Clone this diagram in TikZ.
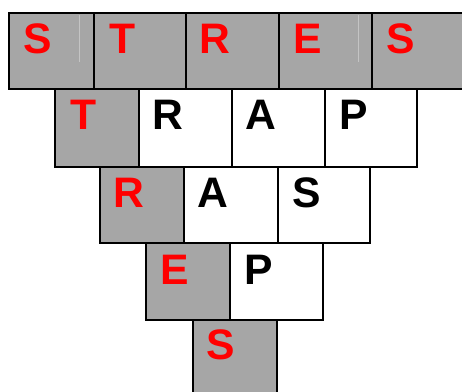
\documentclass[tikz,border=0pt]{standalone}
\usepackage{fontspec}
\setmainfont{Liberation Sans}
\usetikzlibrary{positioning}
\definecolor{boxgray}{HTML}{A6A6A6}
\definecolor{keyred}{HTML}{FF0000}
\definecolor{fainted}{HTML}{C4C4C4}

\tikzset{
  box/.style={draw=black, line width=1.5pt},
  keybox/.style={box, fill=boxgray},
  plainbox/.style={box, fill=white},
  letter/.style={font=\fontsize{32}{32}\selectfont\bfseries, inner sep=0pt, anchor=base},
  keyletter/.style={letter, text=keyred},
  plainletter/.style={letter, text=black},
}

\begin{document}
\begin{tikzpicture}[x=0.75pt, y=-0.75pt]
    \useasboundingbox (0,0) rectangle (462,392);
    \clip (0,0) rectangle (462,392);

    % row 1 : S T R E S (all grey)
    \foreach \xa/\xb/\ch [count=\i] in {9/94/S, 94/186/T, 186/279/R, 279/372/E, 372/466/S} {
      \draw[keybox] (\xa,13) rectangle (\xb,89);
      \node[keyletter] (ra\i) at (\xa+29,54) {\ch};
    }
    \draw[fainted, line width=0.6pt] (79,15) -- (79,62);
    \draw[fainted, line width=0.6pt] (358,15) -- (358,62);

    % row 2 : T R A P
    \draw[keybox] (55,89) rectangle (139,167);
    \node[keyletter] (rb1) at (84,130) {T};
    \foreach \xa/\xb/\ch [count=\i from 2] in {139/232/R, 232/325/A, 325/417/P} {
      \draw[plainbox] (\xa,89) rectangle (\xb,167);
      \node[plainletter] (rb\i) at (\xa+29,130) {\ch};
    }

    % row 3 : R A S
    \draw[keybox] (100,167) rectangle (184,243);
    \node[keyletter] (rc1) at (129,208) {R};
    \foreach \xa/\xb/\ch [count=\i from 2] in {184/278/A, 278/370/S} {
      \draw[plainbox] (\xa,167) rectangle (\xb,243);
      \node[plainletter] (rc\i) at (\xa+29,208) {\ch};
    }

    % row 4 : E P
    \draw[keybox] (146,243) rectangle (230,320);
    \node[keyletter] (rd1) at (175,285) {E};
    \draw[plainbox] (230,243) rectangle (323,320);
    \node[plainletter] (rd2) at (259,285) {P};

    % row 5 : S
    \draw[keybox] (193,320) rectangle (277,396);
    \node[keyletter] (re1) at (221,360) {S};
\end{tikzpicture}
\end{document}
